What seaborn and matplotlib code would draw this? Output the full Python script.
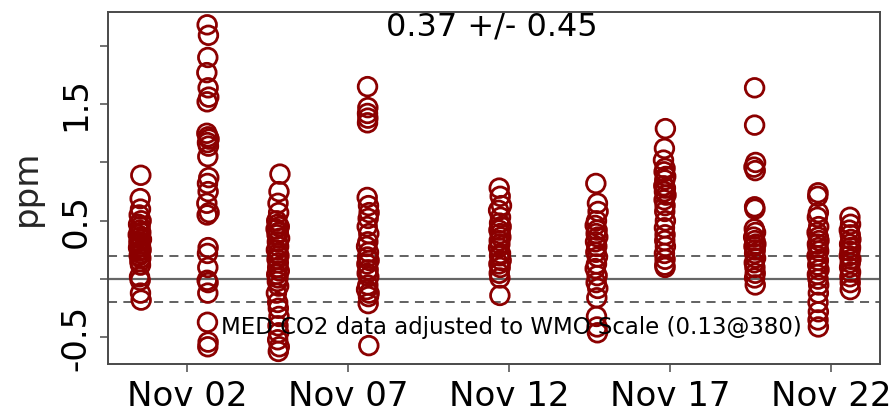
import numpy as np
import pandas as pd
import matplotlib
matplotlib.use("Agg")
import matplotlib.pyplot as plt
import matplotlib.dates as mdates
import seaborn as sns

# Flask samples: day-of-November (fractional) and CO2 difference (ppm)
c1_day = [0.57, 0.55, 0.56, 0.52, 0.58, 0.50, 0.55, 0.53, 0.57, 0.49, 0.55, 0.59, 0.51, 0.54,
          0.56, 0.50, 0.58, 0.53, 0.55, 0.52, 0.57, 0.54, 0.56, 0.53, 0.55, 0.56, 0.58]
c1_ppm = [0.89, 0.69, 0.60, 0.55, 0.50, 0.47, 0.45, 0.42, 0.40, 0.38, 0.36, 0.34, 0.32, 0.30,
          0.28, 0.27, 0.25, 0.24, 0.22, 0.20, 0.18, 0.15, 0.12, 0.02, -0.01, -0.12, -0.18]

c2_day = [2.63, 2.67, 2.65, 2.62, 2.66, 2.68, 2.63, 2.62, 2.66, 2.69, 2.64, 2.67, 2.65, 2.68,
          2.64, 2.66, 2.62, 2.69, 2.63, 2.66, 2.64, 2.65, 2.63, 2.66, 2.65, 2.64, 2.66, 2.65]
c2_ppm = [2.18, 2.09, 1.90, 1.77, 1.64, 1.56, 1.52, 1.25, 1.22, 1.20, 1.17, 1.14, 1.05, 0.87,
          0.82, 0.75, 0.65, 0.57, 0.55, 0.27, 0.22, 0.10, -0.01, -0.03, -0.12, -0.37, -0.54, -0.58]

c3_day = [4.89, 4.86, 4.83, 4.85, 4.79, 4.82, 4.87, 4.77, 4.84, 4.80, 4.88, 4.81, 4.85, 4.78,
          4.83, 4.86, 4.80, 4.84, 4.82, 4.87, 4.79, 4.83, 4.81, 4.85, 4.78, 4.82, 4.84, 4.86,
          4.83, 4.85, 4.82, 4.87, 4.84]
c3_ppm = [0.90, 0.75, 0.65, 0.57, 0.50, 0.47, 0.45, 0.43, 0.40, 0.38, 0.35, 0.32, 0.28, 0.25,
          0.22, 0.20, 0.17, 0.14, 0.10, 0.07, 0.04, 0.01, -0.02, -0.06, -0.12, -0.20, -0.25,
          -0.32, -0.40, -0.46, -0.52, -0.58, -0.62]

c4_day = [7.61, 7.62, 7.61, 7.62, 7.61, 7.60, 7.64, 7.66, 7.63, 7.60, 7.65, 7.62, 7.58, 7.64,
          7.61, 7.66, 7.59, 7.63, 7.60, 7.65, 7.62, 7.58, 7.66, 7.64, 7.63, 7.65]
c4_ppm = [1.65, 1.47, 1.42, 1.38, 1.34, 0.70, 0.63, 0.57, 0.52, 0.45, 0.39, 0.32, 0.28, 0.23,
          0.19, 0.16, 0.13, 0.08, 0.05, 0.02, -0.05, -0.09, -0.12, -0.15, -0.21, -0.57]

c5_day = [11.70, 11.73, 11.77, 11.68, 11.74, 11.71, 11.76, 11.69, 11.73, 11.75, 11.70, 11.72,
          11.68, 11.74, 11.71, 11.76, 11.69, 11.73, 11.70, 11.72, 11.72]
c5_ppm = [0.78, 0.71, 0.63, 0.59, 0.53, 0.48, 0.45, 0.42, 0.39, 0.36, 0.33, 0.30, 0.27, 0.22,
          0.20, 0.16, 0.13, 0.10, 0.05, 0.01, -0.14]

c6_day = [14.70, 14.75, 14.77, 14.72, 14.68, 14.74, 14.71, 14.76, 14.69, 14.73, 14.70, 14.75,
          14.72, 14.68, 14.74, 14.71, 14.76, 14.73, 14.72, 14.74, 14.75]
c6_ppm = [0.82, 0.65, 0.58, 0.50, 0.46, 0.42, 0.39, 0.36, 0.32, 0.28, 0.23, 0.19, 0.13, 0.09,
          0.03, -0.03, -0.08, -0.16, -0.32, -0.41, -0.46]

c7_day = [16.86, 16.83, 16.80, 16.85, 16.82, 16.87, 16.84, 16.81, 16.86, 16.83, 16.88, 16.82,
          16.85, 16.84, 16.86, 16.83, 16.85, 16.84, 16.86, 16.83, 16.85, 16.84, 16.85]
c7_ppm = [1.29, 1.12, 1.02, 0.95, 0.92, 0.88, 0.85, 0.80, 0.78, 0.75, 0.72, 0.68, 0.63, 0.58,
          0.50, 0.44, 0.38, 0.33, 0.28, 0.22, 0.17, 0.12, 0.10]

c8_day = [19.63, 19.63, 19.66, 19.61, 19.65, 19.63, 19.64, 19.62, 19.66, 19.60, 19.64, 19.67,
          19.61, 19.65, 19.63, 19.66, 19.62, 19.64, 19.65, 19.63, 19.65]
c8_ppm = [1.64, 1.32, 1.00, 0.96, 0.93, 0.62, 0.60, 0.43, 0.40, 0.36, 0.33, 0.30, 0.28, 0.25,
          0.22, 0.18, 0.14, 0.10, 0.05, 0.01, -0.05]

c9_day = [21.60, 21.59, 21.61, 21.58, 21.62, 21.57, 21.61, 21.63, 21.58, 21.60, 21.62, 21.57,
          21.61, 21.59, 21.63, 21.58, 21.60, 21.62, 21.61, 21.60, 21.61, 21.60, 21.61]
c9_ppm = [0.74, 0.71, 0.57, 0.53, 0.45, 0.40, 0.36, 0.33, 0.30, 0.27, 0.24, 0.20, 0.16, 0.12,
          0.08, 0.04, 0.00, -0.05, -0.12, -0.20, -0.28, -0.35, -0.41]

c10_day = [22.59, 22.61, 22.57, 22.60, 22.62, 22.58, 22.61, 22.59, 22.57, 22.62, 22.60, 22.58,
           22.61, 22.59, 22.60, 22.60]
c10_ppm = [0.53, 0.47, 0.42, 0.38, 0.34, 0.30, 0.27, 0.24, 0.20, 0.17, 0.14, 0.10, 0.06, 0.02,
           -0.03, -0.09]

tick_days = [2, 7, 12, 17, 22]
ytick_vals = [-0.5, 0.0, 0.5, 1.0, 1.5, 2.0]
ytick_text = ["-0.5", "", "0.5", "", "1.5", ""]
band = 0.2
title_text = "0.37 +/- 0.45"
note_text = "MED CO2 data adjusted to WMO Scale (0.13@380)"

days = c1_day + c2_day + c3_day + c4_day + c5_day + c6_day + c7_day + c8_day + c9_day + c10_day
ppm = c1_ppm + c2_ppm + c3_ppm + c4_ppm + c5_ppm + c6_ppm + c7_ppm + c8_ppm + c9_ppm + c10_ppm

origin = pd.Timestamp("2010-10-31")
df = pd.DataFrame({
    "time": [origin + pd.Timedelta(days=d) for d in days],
    "ppm": ppm,
})

sns.set_theme(style="white")
plt.rcParams["font.family"] = ["DejaVu Sans"]

fig = plt.figure(figsize=(8.96, 4.13), dpi=100)
ax = fig.add_axes([0.1205, 0.118, 0.8615, 0.853])

frame_col = "#4a4a4a"
ax.axhline(0, color="#666666", lw=1.6, zorder=1)
ax.axhline(band, color="#555555", lw=1.3, ls=(0, (5, 3.5)), zorder=1)
ax.axhline(-band, color="#555555", lw=1.3, ls=(0, (5, 3.5)), zorder=1)

sns.scatterplot(data=df, x="time", y="ppm", ax=ax, marker="o", s=180,
                facecolors="none", edgecolor="#8B0000", linewidth=2.0, zorder=3)

ax.set_xlim(origin + pd.Timedelta(days=-0.45), origin + pd.Timedelta(days=23.52))
ax.set_ylim(-0.73, 2.29)

ax.set_xticks([origin + pd.Timedelta(days=d) for d in tick_days])
ax.xaxis.set_major_formatter(mdates.DateFormatter("%b %d"))
ax.set_yticks(ytick_vals)
ax.set_yticklabels(ytick_text, rotation=90, va="center")

ax.tick_params(axis="both", direction="out", length=6, width=1.1, color=frame_col,
               labelsize=24.5, labelcolor="black", pad=4)
ax.tick_params(axis="x", bottom=True, pad=5)
ax.tick_params(axis="y", left=True, pad=5)

for side in ax.spines.values():
    side.set_visible(True)
    side.set_color(frame_col)
    side.set_linewidth(1.4)

ax.set_xlabel("")
ax.set_ylabel("ppm", fontsize=24.5, labelpad=12)

ax.text(0.497, 0.956, title_text, transform=ax.transAxes, ha="center", va="center",
        fontsize=23, color="black")
ax.text(0.523, 0.104, note_text, transform=ax.transAxes, ha="center", va="center",
        fontsize=16.5, color="black")

fig.savefig("out.png", dpi=100)
